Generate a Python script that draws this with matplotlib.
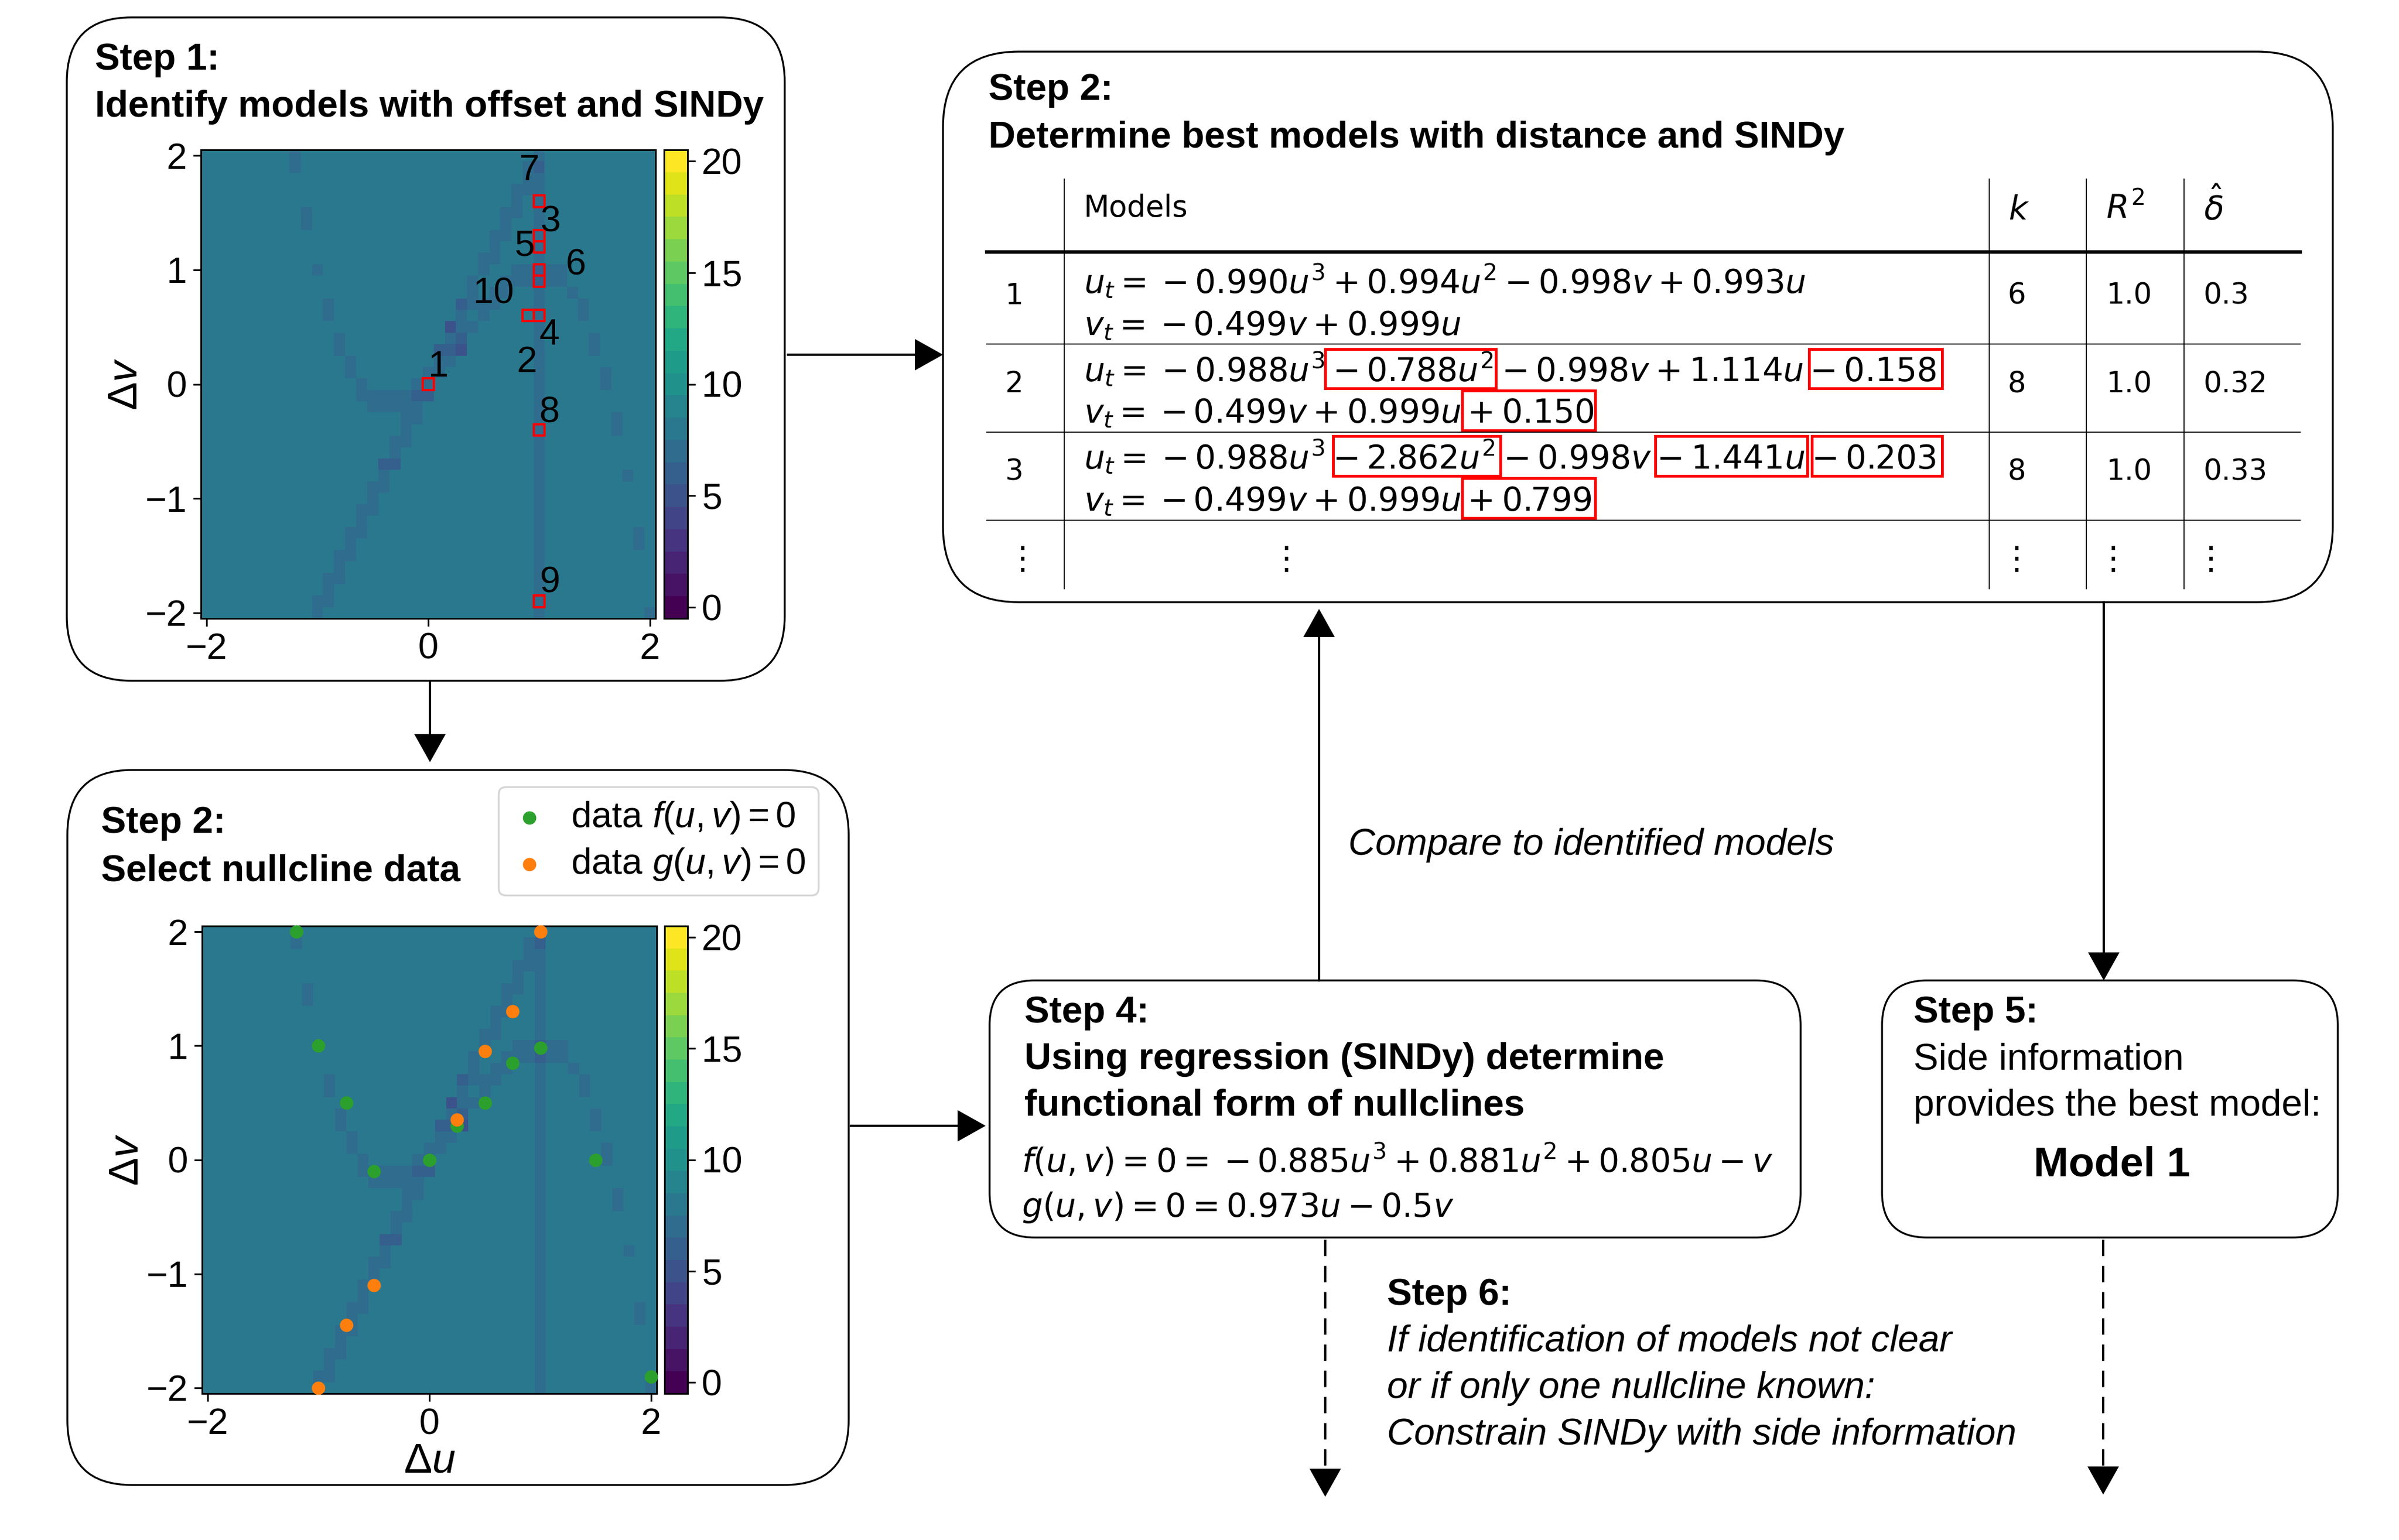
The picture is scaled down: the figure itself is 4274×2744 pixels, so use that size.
import numpy as np
import matplotlib
matplotlib.use('Agg')
import matplotlib.pyplot as plt
from matplotlib.patches import FancyBboxPatch, Rectangle, Polygon

plt.rcParams['font.family'] = ['Liberation Sans', 'DejaVu Sans']
plt.rcParams['mathtext.fontset'] = 'custom'
plt.rcParams['mathtext.rm'] = 'Liberation Sans'
plt.rcParams['mathtext.it'] = 'Liberation Sans:italic'
plt.rcParams['mathtext.bf'] = 'Liberation Sans:bold'

W, H = 4274, 2744

# heatmap cells: default count, then the cells that sit lower
grid_u = [round(-2 + 0.1 * i, 1) for i in range(41)]
grid_v = [round(2 - 0.1 * j, 1) for j in range(41)]
base_count = 8
line_col = 30  # u = 1
line_count = 7
dip_rows = [[8], [8, 29], [29], [28, 29], [28], [9, 27, 28], [9, 27], [26, 27], [26], [25, 26],
            [10, 25, 28, 29, 31, 32], [24, 27, 28, 29, 31, 32], [24, 26, 27, 33],
            [11, 23, 24, 25, 26, 34], [11, 23, 25, 34], [22, 23, 24], [12, 22, 23, 35],
            [12, 21, 22, 23, 35], [13, 21, 22], [13, 20, 21, 36], [14, 19, 20, 36],
            [14, 15, 16, 17, 18, 19, 20], [15, 16, 17, 18, 19], [18, 19, 37], [18, 37], [17, 18],
            [17], [16, 17], [16, 38], [15, 16], [15], [14, 15], [14], [13, 14, 39], [13, 39],
            [12, 13], [12], [11, 12], [11], [10, 11], [10, 40]]
deep_row = [1, 10, 11, 13, 21, 21, 27, 27, 16, 17, 17]
deep_col = [30, 30, 30, 23, 19, 20, 16, 17, 23, 21, 22]
deep_count = 6
deepest_row = [15, 17]
deepest_col = [22, 23]
deepest_count = 5

# identified offsets in step 1
box_u = [0, 0.9, 1, 1, 1, 1, 1, 1, 1, 1]
box_v = [0, 0.6, 0.6, 1.6, 1.3, 1.2, 1.0, 0.9, -0.4, -1.9]
num_labels = ['1', '2', '3', '4', '5', '6', '7', '8', '9', '10']
num_u = [0.09, 0.89, 1.1, 1.09, 0.87, 1.33, 0.91, 1.09, 1.1, 0.59]
num_v = [0.15, 0.19, 1.42, 0.43, 1.21, 1.04, 1.87, -0.25, -1.74, 0.79]

# nullcline data in step 2
f_u = [-1.2, -1, -0.75, -0.5, 0, 0.25, 0.5, 0.75, 1, 1.5, 2]
f_v = [2, 1, 0.5, -0.1, 0, 0.3, 0.5, 0.85, 0.98, 0, -1.9]
g_u = [-1, -0.75, -0.5, 0.25, 0.5, 0.75, 1]
g_v = [-2, -1.45, -1.1, 0.35, 0.95, 1.3, 2]

ticks_xy = [-2, -1, 0, 1, 2]
ticks_cb = [0, 5, 10, 15, 20]

table_rows = ['1', '2', '3']
table_k = ['6', '8', '8']
table_r2 = ['1.0', '1.0', '1.0']
table_delta = ['0.3', '0.32', '0.33']
# gap either side of the leading minus, as in the original typesetting
neg = r'\hspace{0.02}-\hspace{-0.03}'
eq_u = [r'$u_t =' + neg + r'0.990u^3 + 0.994u^2 - 0.998v + 0.993u$',
        r'$u_t =' + neg + r'0.988u^3 - 0.788u^2 - 0.998v + 1.114u - 0.158$',
        r'$u_t =' + neg + r'0.988u^3 - 2.862u^2 - 0.998v - 1.441u - 0.203$']
eq_v = [r'$v_t =' + neg + r'0.499v + 0.999u$',
        r'$v_t =' + neg + r'0.499v + 0.999u + 0.150$',
        r'$v_t =' + neg + r'0.499v + 0.999u + 0.799$']

grid = np.full((41, 41), base_count, dtype=float)
for j, cols in enumerate(dip_rows):
    grid[j, cols] = line_count
grid[:, line_col] = line_count
grid[deep_row, deep_col] = deep_count
grid[deepest_row, deepest_col] = deepest_count

fig = plt.figure(figsize=(W / 100, H / 100), dpi=100)
bg = fig.add_axes([0, 0, 1, 1], zorder=0)
bg.set_xlim(0, W)
bg.set_ylim(H, 0)
bg.axis('off')


def px_axes(x0, y0, x1, y1):
    return fig.add_axes([x0 / W, 1 - y1 / H, (x1 - x0) / W, (y1 - y0) / H], zorder=2)


def round_box(x0, y0, x1, y1, r):
    bg.add_patch(FancyBboxPatch((x0, y0), x1 - x0, y1 - y0, boxstyle='round,pad=0,rounding_size=%d' % r,
                                fc='white', ec='black', lw=2.4))


def arrow(x0, y0, x1, y1, dashed=False):
    d = np.array([x1 - x0, y1 - y0], dtype=float)
    d /= np.hypot(*d)
    n = np.array([-d[1], d[0]])
    tip = np.array([x1, y1])
    base = tip - d * 50
    bg.plot([x0, base[0]], [y0, base[1]], color='black', lw=3, ls=(0, (7, 4.2)) if dashed else '-')
    bg.add_patch(Polygon([tip, base + n * 28, base - n * 28], fc='black', ec='none'))


def heat(ax, cax):
    mesh = ax.pcolormesh(grid_u, grid_v, grid, cmap=plt.get_cmap('viridis', 21), vmin=-0.5, vmax=20.5,
                         shading='nearest')
    ax.set_xticks([-2, 0, 2])
    ax.set_yticks(ticks_xy)
    ax.tick_params(labelsize=47, length=10, width=2.2, pad=8)
    ax.set_ylabel(r'$\Delta v$', fontsize=54, labelpad=0)
    for s in ax.spines.values():
        s.set_linewidth(2.2)
    cb = fig.colorbar(mesh, cax=cax, ticks=ticks_cb)
    cb.ax.tick_params(labelsize=47, length=10, width=2.2, pad=8)
    cb.outline.set_linewidth(2.2)


# boxes
round_box(119, 31, 1398, 1213, 115)
round_box(120, 1372, 1512, 2646, 115)
round_box(1680, 92, 4156, 1073, 135)
round_box(1763, 1747, 3208, 2205, 80)
round_box(3353, 1747, 4165, 2205, 80)

# arrows
arrow(766, 1216, 766, 1358)
arrow(1404, 632, 1680, 632)
arrow(1516, 2006, 1756, 2006)
arrow(2350, 1747, 2350, 1085)
arrow(3748, 1073, 3748, 1747)
arrow(2361, 2209, 2361, 2667, dashed=True)
arrow(3747, 2209, 3747, 2663, dashed=True)

# step 1 panel
ax1 = px_axes(358, 267, 1168, 1102)
cax1 = px_axes(1183, 267, 1225, 1102)
heat(ax1, cax1)
for u, v in zip(box_u, box_v):
    ax1.add_patch(Rectangle((u - 0.05, v - 0.05), 0.1, 0.1, fc='none', ec='red', lw=3))
for lab, u, v in zip(num_labels, num_u, num_v):
    ax1.text(u, v, lab, fontsize=47, ha='center', va='center', color='black')

# step 2 panel
ax2 = px_axes(360, 1650, 1170, 2483)
cax2 = px_axes(1184, 1650, 1225, 2483)
heat(ax2, cax2)
ax2.set_xlabel(r'$\Delta u$', fontsize=54, labelpad=1)
s_f = ax2.scatter(f_u, f_v, s=260, color='tab:green', zorder=3, clip_on=False)
s_g = ax2.scatter(g_u, g_v, s=260, color='tab:orange', zorder=3, clip_on=False)
leg = bg.legend([s_f, s_g], [r'data $f(u,v) = 0$', r'data $g(u,v) = 0$'], fontsize=47, loc='upper left',
                bbox_to_anchor=(888 / W, 1 - 1402 / H), bbox_transform=fig.transFigure, framealpha=0.8,
                edgecolor='0.8', borderaxespad=0, borderpad=0.35, handlelength=1, handletextpad=0.62,
                labelspacing=0.3)
leg.get_frame().set_linewidth(2.4)

bold = dict(fontsize=48, fontweight='bold', va='baseline')
plain = dict(fontsize=48, va='baseline')
ital = dict(fontsize=48, style='italic', va='baseline')

bg.text(169, 124, 'Step 1:', **bold)
bg.text(169, 208, 'Identify models with offset and SINDy', **bold)
bg.text(180, 1484, 'Step 2:', **bold)
bg.text(180, 1570, 'Select nullcline data', **bold)
bg.text(1761, 178, 'Step 2:', **bold)
bg.text(1761, 263, 'Determine best models with distance and SINDy', **bold)

bg.text(1825, 1822, 'Step 4:', **bold)
bg.text(1825, 1905, 'Using regression (SINDy) determine', **bold)
bg.text(1825, 1988, 'functional form of nullclines', **bold)
bg.text(1820, 2088, r'$f(u,v) = 0 =' + neg + r'0.885u^3 + 0.881u^2 + 0.805u - v$', fontsize=42, va='baseline', math_fontfamily='dejavusans')
bg.text(1820, 2168, r'$g(u,v) = 0 = 0.973u - 0.5v$', fontsize=42, va='baseline', math_fontfamily='dejavusans')

bg.text(3409, 1822, 'Step 5:', **bold)
bg.text(3409, 1905, 'Side information', **plain)
bg.text(3409, 1988, 'provides the best model:', **plain)
bg.text(3763, 2096, 'Model 1', fontsize=54, fontweight='bold', va='baseline', ha='center')

bg.text(2471, 2325, 'Step 6:', **bold)
bg.text(2471, 2408, 'If identification of models not clear', **ital)
bg.text(2471, 2491, 'or if only one nullcline known:', **ital)
bg.text(2471, 2574, 'Constrain SINDy with side information', **ital)
bg.text(2402, 1523, 'Compare to identified models', **ital)

# table
tab = dict(fontsize=37, va='baseline', family='DejaVu Sans')
tab_m = dict(fontsize=42, va='baseline', math_fontfamily='dejavusans')
bg.plot([1758, 4098], [449, 449], color='black', lw=4.5)
for y in [613, 770, 927]:
    bg.plot([1758, 4098], [y, y], color='black', lw=1.3)
for x in [1896, 3544, 3717, 3891]:
    bg.plot([x, x], [319, 1049], color='black', lw=1.3)
bg.text(1931, 386, 'Models', fontsize=38, va='baseline', family='DejaVu Sans')
bg.text(3578, 391, r'$k$', **tab_m)
bg.text(3752, 389, r'$R^2$', **tab_m)
bg.text(3926, 392, r'$\hat{\delta}$', **tab_m)
base_row = [542, 699, 855]
base_u = [522, 679, 835]
base_v = [597, 753, 910]
for i in range(3):
    bg.text(1790, base_row[i], table_rows[i], **tab)
    bg.text(1931, base_u[i], eq_u[i], **tab_m)
    bg.text(1931, base_v[i], eq_v[i], **tab_m)
    bg.text(3576, base_row[i], table_k[i], **tab)
    bg.text(3752, base_row[i], table_r2[i], **tab)
    bg.text(3926, base_row[i], table_delta[i], **tab)
for x in [1809, 2279, 3580, 3752, 3926]:
    bg.text(x, 999, r'$\vdots$', fontsize=42, ha='center', va='center', math_fontfamily='dejavusans')

# red highlights around the extra terms
red_x0 = [2361, 3223, 2605, 2375, 2949, 3228, 2605]
red_x1 = [2665, 3460, 2842, 2673, 3220, 3460, 2842]
red_y0 = [622, 622, 696, 777, 777, 777, 852]
red_y1 = [692, 692, 767, 848, 848, 848, 923]
for a, b, c, d in zip(red_x0, red_x1, red_y0, red_y1):
    bg.add_patch(Rectangle((a, c), b - a, d - c, fc='none', ec='red', lw=3.6))

fig.savefig('out.png', dpi=100)
